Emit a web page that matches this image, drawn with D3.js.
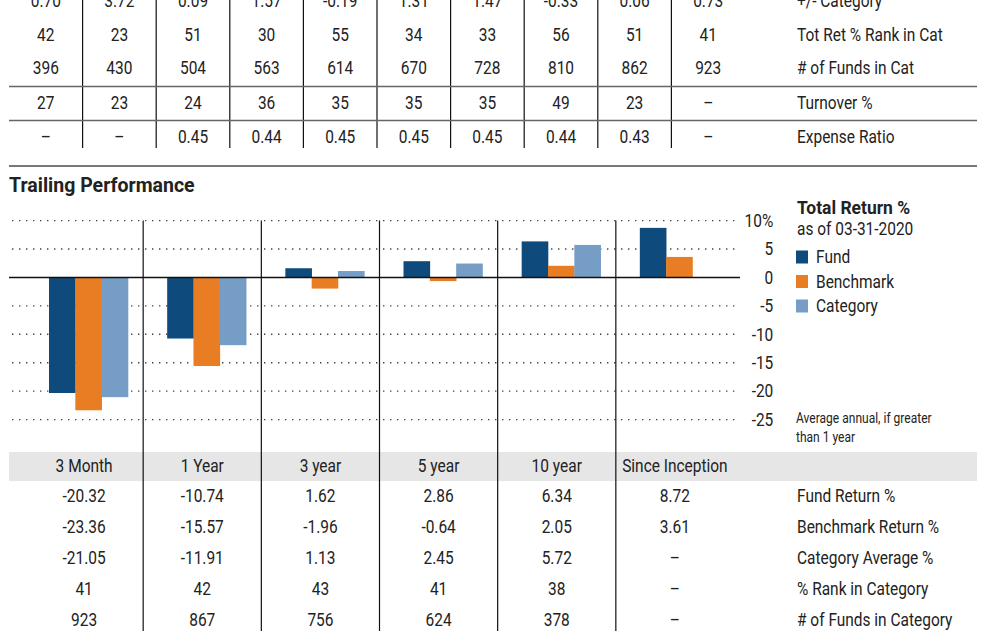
<!DOCTYPE html>
<html>
  <head>
    <meta charset="utf-8">
    <title>Trailing Performance</title>
    <style>
      body{ margin:0; background:#fff; }
      svg{ display:block; font-family: "Roboto", "Liberation Sans", sans-serif; }
      text{ fill:#222; }
    </style>
  </head>
  <body>
    <svg id="chart" width="987" height="631"></svg>
  </body>
  <script src="https://d3js.org/d3.v7.min.js"></script>
  <script>
    // history table (top, partly cut off)
    var plusMinusCat = ["0.70","3.72","0.09","1.57","-0.19","1.31","1.47","-0.33","0.06","0.73"]
    var totRetRank = ["42","23","51","30","55","34","33","56","51","41"]
    var fundsInCatHist = ["396","430","504","563","614","670","728","810","862","923"]
    var turnover = ["27","23","24","36","35","35","35","49","23","–"]
    var expenseRatio = ["–","–","0.45","0.44","0.45","0.45","0.45","0.44","0.43","–"]
    var histLabels = ["+/- Category","Tot Ret % Rank in Cat","# of Funds in Cat","Turnover %","Expense Ratio"]

    // trailing performance
    var periods = ["3 Month","1 Year","3 year","5 year","10 year","Since Inception"]
    var fundReturn = [-20.32,-10.74,1.62,2.86,6.34,8.72]
    var benchReturn = [-23.36,-15.57,-1.96,-0.64,2.05,3.61]
    var catReturn = [-21.05,-11.91,1.13,2.45,5.72,null]
    var rankInCat = [41,42,43,41,38,null]
    var fundsInCat = [923,867,756,624,378,null]
    var seriesNames = ["Fund","Benchmark","Category"]
    var seriesColors = ["#0f4a7c","#e87d23","#769dc5"]
    var yTicks = [10,5,0,-5,-10,-15,-20,-25]
    var perfLabels = ["Fund Return %","Benchmark Return %","Category Average %","% Rank in Category","# of Funds in Category"]

    var SX = 0.86 // fake a condensed face
    var svg = d3.select("#chart")

    function ctext(parent, x, y, str, anchor, size, weight, sx){
      return parent.append("text")
        .attr("transform","translate("+x+","+y+") scale("+(sx||SX)+",1)")
        .attr("text-anchor",anchor||"middle")
        .attr("dy","0.35em")
        .style("font-size",(size||18)+"px")
        .style("font-weight",weight||400)
        .text(str)
    }
    function fmt(v){ return v==null ? "–" : (typeof v=="number" && v%1!==0 ? v.toFixed(2) : String(v)) }

    // ---------- top table ----------
    var xt = d3.scaleBand().domain(d3.range(10)).range([9,745])
    var topRows = [plusMinusCat,totRetRank,fundsInCatHist,turnover,expenseRatio]
    var topY = [1,35,68,103,137]
    var topG = svg.append("g")
    d3.range(1,10).forEach(function(i){
      topG.append("line").attr("x1",xt(i)).attr("x2",xt(i)).attr("y1",0).attr("y2",148)
        .attr("stroke","#111").attr("stroke-width",1.2)
    })
    ;[86.5,120.5].forEach(function(y){
      topG.append("line").attr("x1",9).attr("x2",977).attr("y1",y).attr("y2",y)
        .attr("stroke","#666").attr("stroke-width",1.5)
    })
    topRows.forEach(function(row,r){
      row.forEach(function(v,i){ ctext(topG, xt(i)+xt.bandwidth()/2, topY[r], v) })
      ctext(topG, 797, topY[r], histLabels[r], "start")
    })
    svg.append("line").attr("x1",9).attr("x2",977).attr("y1",166).attr("y2",166)
      .attr("stroke","#777").attr("stroke-width",2)

    ctext(svg, 9, 185, "Trailing Performance", "start", 21, 700, 0.93)

    // ---------- bar chart ----------
    var x0 = d3.scaleBand().domain(periods).range([25,734])
    var x1 = d3.scaleBand().domain(seriesNames).range([24,103])
    var y = d3.scaleLinear().domain([-25,10]).range([419.6,220.6])

    var grid = svg.append("g")
    yTicks.filter(function(t){return t!==0}).forEach(function(t){
      grid.append("line").attr("x1",12).attr("x2",735).attr("y1",y(t)).attr("y2",y(t))
        .attr("stroke","#444").attr("stroke-width",1.4).attr("stroke-dasharray","1.4,5.6")
    })

    var barData = []
    periods.forEach(function(p,i){
      [fundReturn[i],benchReturn[i],catReturn[i]].forEach(function(v,s){
        if(v!=null) barData.push({p:p,s:seriesNames[s],v:v,c:seriesColors[s]})
      })
    })
    svg.append("g").selectAll("rect").data(barData).enter().append("rect")
      .attr("x",function(d){return x0(d.p)+x1(d.s)})
      .attr("width",x1.bandwidth()+0.3)
      .attr("y",function(d){return y(Math.max(0,d.v))})
      .attr("height",function(d){return Math.abs(y(d.v)-y(0))})
      .attr("fill",function(d){return d.c})

    svg.append("line").attr("x1",9).attr("x2",740).attr("y1",y(0)).attr("y2",y(0))
      .attr("stroke","#111").attr("stroke-width",1.5)

    // y axis on the right
    var yAxis = svg.append("g").attr("transform","translate(775,0)")
      .call(d3.axisLeft(y).tickValues(yTicks).tickSize(0).tickPadding(2)
        .tickFormat(function(d){return d===10 ? "10%" : d}))
    yAxis.select(".domain").remove()
    yAxis.selectAll("text").attr("transform","scale("+SX+",1)")
      .style("font-size","18px").style("font-family","Roboto").attr("fill","#222")

    // legend
    ctext(svg, 797, 208, "Total Return %", "start", 18, 700, 0.97)
    ctext(svg, 797, 229, "as of 03-31-2020", "start", 18)
    var lg = svg.append("g").selectAll("g").data(seriesNames).enter().append("g")
      .attr("transform",function(d,i){return "translate(796,"+(257+i*24.5)+")"})
    lg.append("rect").attr("x",0).attr("y",-6.5).attr("width",12).attr("height",13)
      .attr("fill",function(d,i){return seriesColors[i]})
    lg.each(function(d){ ctext(d3.select(this), 20, 0, d, "start", 18) })
    ctext(svg, 796, 418, "Average annual, if greater", "start", 14)
    ctext(svg, 796, 437, "than 1 year", "start", 14)

    // ---------- bottom table ----------
    svg.append("rect").attr("x",9).attr("y",452).attr("width",968).attr("height",29).attr("fill","#e6e6e6")
    periods.slice(1).forEach(function(p){
      svg.append("line").attr("x1",x0(p)).attr("x2",x0(p)).attr("y1",y(10)).attr("y2",631)
        .attr("stroke","#111").attr("stroke-width",1.2)
    })
    periods.forEach(function(p){ ctext(svg, x0(p)+x0.bandwidth()/2, 466, p) })
    var botRows = [fundReturn,benchReturn,catReturn,rankInCat,fundsInCat]
    botRows.forEach(function(row,r){
      var yy = 496 + r*31
      row.forEach(function(v,i){ ctext(svg, x0(periods[i])+x0.bandwidth()/2, yy, fmt(v)) })
      ctext(svg, 797, yy, perfLabels[r], "start")
    })
  </script>
</html>
